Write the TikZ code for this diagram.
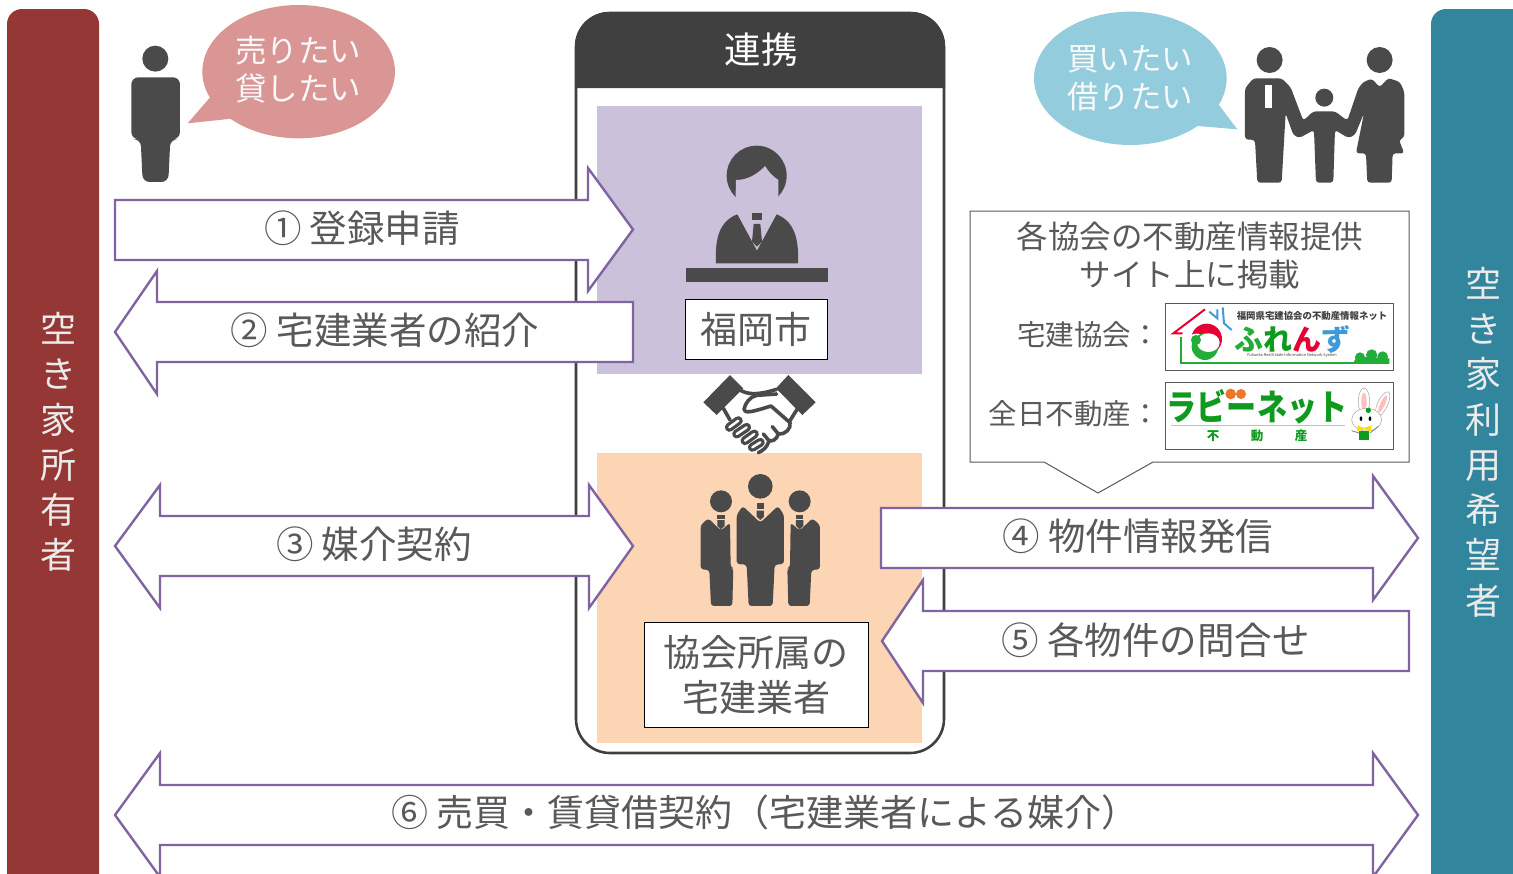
\documentclass[tikz,border=0pt]{standalone}
\usepackage{fontspec}
\setmainfont{Noto Sans CJK JP}
\definecolor{ink}{HTML}{595959}
\definecolor{dark}{HTML}{4A4A4A}
\definecolor{hdr}{HTML}{404040}
\definecolor{arrowline}{HTML}{8064A2}
\definecolor{redbar}{HTML}{953735}
\definecolor{tealbar}{HTML}{31859C}
\definecolor{lilac}{HTML}{CCC1DA}
\definecolor{peach}{HTML}{FCD5B5}
\definecolor{rosebub}{HTML}{D99694}
\definecolor{bluebub}{HTML}{93CDDD}
\definecolor{lgreen}{HTML}{22AC38}
\definecolor{lred}{HTML}{E60033}
\definecolor{lblue}{HTML}{3E9BD8}
\definecolor{rgreen}{HTML}{0E9A1E}
\definecolor{rorange}{HTML}{F0742A}
\newcommand{\fs}[2]{\fontsize{#1}{#2}\selectfont}
\tikzset{
  blockarrow/.style={draw=arrowline,fill=white,line width=2.4pt,line join=miter},
  arrowtext/.style={font=\fs{37.5}{42},text=ink,inner sep=0pt},
  barlabel/.style={font=\fs{36}{45.3},text=white!92!black,align=center,inner sep=0pt},
  bubtext/.style={font=\fs{31.5}{38},text=white!95!gray,align=center,inner sep=0pt},
  whitebox/.style={draw=black,fill=white,line width=1pt,inner sep=0pt,font=\fs{37}{45},text=ink,align=center},
  smalltext/.style={font=\fs{28.5}{38},text=ink,align=center,inner sep=0pt},
  logobox/.style={draw=ink,fill=white,line width=1pt},
  hand/.style={draw=dark,line width=3.6pt,line join=round,line cap=round},
  x=1pt,y=-1pt}
\begin{document}
\begin{tikzpicture}
\useasboundingbox (0,0) rectangle (1513,873);
\clip (0,0) rectangle (1513,873);
% side bars
\fill[redbar,rounded corners=15pt] (7,9) rectangle (99,900);
\fill[tealbar,rounded corners=15pt] (1431,9) rectangle (1560,900);
\node[barlabel] (ownerlabel) at (58,442) {空\\き\\家\\所\\有\\者};
\node[barlabel] (userlabel) at (1483,442) {空\\き\\家\\利\\用\\希\\望\\者};
% central frame
\draw[hdr,line width=2.6pt,rounded corners=34pt] (576,13) rectangle (944,753);
\fill[hdr,rounded corners=34pt] (575,88) -- (575,12) -- (945,12) -- (945,88);
\node[font=\fs{36.5}{40},text=white,inner sep=0pt] (renkei) at (761,50) {連携};
\fill[lilac] (597,106) rectangle (922,374);
\fill[peach] (597,453) rectangle (922,743);
% official icon
\begin{scope}[shift={(660pt,-130pt)},x=0.3333pt,y=-0.3333pt]
  \fill[dark] (290,137) circle[radius=90];
  \fill[lilac] (226,232) -- (228,150) .. controls (265,150) and (295,130) .. (315,108) .. controls (325,125) and (340,140) .. (355,150) -- (355,232) -- cycle;
  \fill[dark] (168,400) .. controls (165,330) and (175,275) .. (232,253) -- (291,362) -- (350,253) .. controls (405,275) and (417,330) .. (414,400) -- cycle;
  \fill[dark] (275,248) rectangle (307,270);
  \fill[dark] (281,282) -- (301,282) -- (306,335) -- (291,350) -- (276,335) -- cycle;
  \fill[dark] (78,415) rectangle (505,455);
\end{scope}
\node[whitebox,minimum width=142pt,minimum height=60pt] (fukuoka) at (756,329) {\raisebox{2pt}{福岡市}};
% handshake
\begin{scope}[shift={(695pt,-370pt)},x=0.3333pt,y=-0.3333pt]
  \fill[dark] (105,15) -- (25,97) -- (65,135) -- (145,55) -- cycle;
  \fill[dark] (280,15) -- (362,97) -- (322,135) -- (243,55) -- cycle;
  \draw[hand] (135,60) .. controls (160,75) and (190,75) .. (245,58);
  \draw[hand] (245,72) -- (185,76) .. controls (165,80) and (150,100) .. (147,118) .. controls (150,130) and (165,128) .. (228,108) -- (285,158) .. controls (290,175) and (270,195) .. (250,192) .. controls (245,210) and (230,215) .. (222,212) .. controls (215,235) and (205,240) .. (190,248);
  \draw[hand] (85,115) -- (105,150);
  \draw[hand] (310,112) -- (283,155);
  \draw[hand] (250,192) -- (232,170);
  \draw[hand] (222,212) -- (205,192);
  \foreach \ax/\ay/\bx/\by in {103/172/130/152,125/192/155/172,150/212/178/192,172/232/196/217}{
    \draw[dark,line width=9pt,line cap=round] (\ax,\ay) -- (\bx,\by);
    \draw[white,line width=2.4pt,line cap=round] (\ax,\ay) -- (\bx,\by);
  }
\end{scope}
% agents icon
\begin{scope}[shift={(680pt,-460pt)},x=0.3333pt,y=-0.3333pt]
  \foreach \sc/\off in {1/0,-1/482}{
  \begin{scope}[shift={(\off*0.3333pt,0pt)},xscale=\sc]
    \fill[dark] (123,124) circle[radius=33];
    \fill[dark] (112,165) rectangle (134,176);
    \fill[dark] (112,180) -- (134,180) -- (134,198) -- (123,208) -- (112,198) -- cycle;
    \fill[dark,rounded corners=3pt] (85,175) -- (123,212) -- (150,188) -- (152,322) -- (160,325) -- (157,438) -- (93,438) -- (88,330) -- (62,328) -- (62,195) -- cycle;
  \end{scope}}
  \fill[dark] (241,79) circle[radius=37];
  \fill[dark] (230,130) rectangle (252,146);
  \fill[dark] (230,152) -- (252,152) -- (252,170) -- (241,180) -- (230,170) -- cycle;
  \fill[dark,rounded corners=3pt] (188,138) -- (241,188) -- (294,138) -- (312,165) -- (312,312) -- (284,314) -- (278,438) -- (206,438) -- (200,314) -- (170,312) -- (170,165) -- cycle;
\end{scope}
\node[whitebox,minimum width=224pt,minimum height=105pt] (agents) at (756,674.5) {\raisebox{2pt}{協会所属の}\\\raisebox{2pt}{宅建業者}};
% top-left person and bubble
\begin{scope}[shift={(100pt,0pt)},x=0.3333pt,y=-0.3333pt]
  \fill[dark] (166,176) circle[radius=39];
  \fill[dark,rounded corners=7pt] (94,232) -- (94,417) -- (122,418) -- (128,546) -- (205,546) -- (211,418) -- (240,417) -- (240,232) -- cycle;
  \fill[rosebub] (596,215) circle[x radius=289,y radius=200];
  \fill[rosebub] (332,290) -- (263,370) -- (395,356) -- (450,300) -- cycle;
\end{scope}
\node[bubtext] (sell) at (298,70) {売りたい\\貸したい};
% top-right family and bubble
\begin{scope}[shift={(1020pt,0pt)},x=0.3333pt,y=-0.3333pt]
  \fill[bluebub] (331,235) circle[x radius=289,y radius=200];
  \fill[bluebub] (597,315) -- (652,388) -- (533,378) -- (450,300) -- cycle;
  \fill[dark] (749,180) circle[radius=39];
  \fill[dark] (913,293) circle[radius=27];
  \fill[dark] (1079,180) circle[radius=39];
  \fill[dark,rounded corners=3pt] (675,265) -- (700,235) -- (785,235) -- (812,262) -- (850,362) -- (880,334) -- (945,334) -- (982,362) -- (1015,265) -- (1030,246) -- (1056,236) -- (1079,262) -- (1105,234) -- (1140,246) -- (1153,275) -- (1153,412) -- (1137,420) -- (1153,460) -- (1118,460) -- (1115,548) -- (1042,548) -- (1038,460) -- (1008,460) -- (1032,340) -- (1005,405) -- (985,414) -- (945,390) -- (940,548) -- (888,548) -- (882,390) -- (838,414) -- (820,405) -- (797,340) -- (785,548) -- (712,548) -- (705,420) -- (675,418) -- cycle;
  \fill[white] (735,255) rectangle (757,325);
\end{scope}
\node[bubtext] (buy) at (1130,78) {買いたい\\借りたい};
% callout
\draw[ink,fill=white,line width=1pt] (970,211) -- (1409,211) -- (1409,462) -- (1153,462) -- (1098,493) -- (1044,462) -- (970,462) -- cycle;
\node[smalltext,font=\fs{31.5}{38}] (info) at (1190,255) {各協会の不動産情報提供\\サイト上に掲載};
\node[smalltext,anchor=east] (takken) at (1160,335) {宅建協会：};
\node[smalltext,anchor=east] (zennichi) at (1160,414) {全日不動産：};
% logo 1
\draw[logobox] (1165,303) rectangle (1393,370);
\begin{scope}[shift={(1160pt,-300pt)},x=0.3333pt,y=-0.3333pt]
  \draw[lred,line width=2pt] (135,28) -- (40,100) -- (68,100);
  \draw[lblue,line width=2pt] (148,35) -- (172,55) -- (172,28);
  \draw[lblue,line width=2pt] (188,22) -- (192,70) -- (215,90);
  \draw[lgreen,line width=2.2pt] (62,112) -- (62,190) -- (590,190);
  \fill[lred] (140,117) circle[radius=46];
  \fill[white] (110,115) circle[x radius=24,y radius=14];
  \fill[lgreen] (135,140) circle[radius=40];
  \fill[white] (145,128) circle[x radius=34,y radius=28];
  \fill[lgreen] (108,120) circle[radius=15];
  \fill[lgreen] (578,192) -- (590,170) -- (688,175) -- (688,192) -- cycle;
  \fill[lgreen] (600,172) circle[radius=15];
  \fill[lgreen] (635,165) circle[radius=17];
  \fill[lgreen] (668,170) circle[radius=16];
\end{scope}
\node[font=\bfseries\fs{9.4}{10},text=hdr,inner sep=0pt] (l1a) at (1312,316) {福岡県宅建協会の不動産情報ネット};
\node[font=\bfseries\fs{29}{30},inner sep=0pt] (l1b) at (1292,339) {\textcolor{lgreen}{ふ}\textcolor{rgreen}{れ}\textcolor{lred}{ん}\textcolor{lblue}{ず}};
\node[font=\fs{3.9}{5},text=hdr,inner sep=0pt] (l1c) at (1292,355.5) {Fukuoka Real Estate Information Network System};
% logo 2
\draw[logobox] (1165,382) rectangle (1393,449);
\begin{scope}[shift={(1160pt,-378pt)},x=0.3333pt,y=-0.3333pt]
  \fill[rorange] (212,48) circle[radius=16];
  \fill[rorange] (243,48) circle[radius=15];
  \draw[lightgray,line width=.6pt] (32,143) -- (555,143);
  % rabbit
  \filldraw[fill=white,draw=gray!70,line width=.5pt] (612,70) circle[x radius=17,y radius=40];
  \filldraw[fill=white,draw=gray!70,line width=.5pt,rotate around={-25:(668,78)}] (668,78) circle[x radius=15,y radius=40];
  \fill[pink] (612,72) circle[x radius=8,y radius=28];
  \fill[pink,rotate around={-25:(668,78)}] (668,78) circle[x radius=7,y radius=28];
  \filldraw[fill=white,draw=gray!70,line width=.5pt] (620,125) circle[x radius=45,y radius=34];
  \fill[rgreen] (625,97) circle[radius=8];
  \fill[black] (603,122) circle[x radius=4,y radius=7];
  \fill[black] (630,122) circle[x radius=4,y radius=7];
  \draw[gray,line width=.8pt] (597,165) -- (575,158);
  \draw[gray,line width=.8pt] (630,165) -- (655,145);
  \fill[rgreen] (597,160) rectangle (627,186);
  \fill[yellow!80!orange] (592,142) -- (612,150) -- (634,142) -- (634,160) -- (612,154) -- (592,160) -- cycle;
\end{scope}
\node[font=\bfseries\fs{31}{32},text=rgreen,inner sep=0pt] (l2a) at (1257,407) {\scalebox{0.97}[1.15]{ラビーネット}};
\node[font=\bfseries\fs{12.5}{14},text=rgreen,inner sep=0pt] (l2b) at (1213,436) {不};
\node[font=\bfseries\fs{12.5}{14},text=rgreen,inner sep=0pt] (l2c) at (1257,436) {動};
\node[font=\bfseries\fs{12.5}{14},text=rgreen,inner sep=0pt] (l2d) at (1301,436) {産};
% block arrows
\draw[blockarrow] (115,200) -- (588,200) -- (588,168) -- (633,229.5) -- (588,291) -- (588,260) -- (115,260) -- cycle;
\node[arrowtext] (a1) at (362,228) {① 登録申請};
\draw[blockarrow] (633,302) -- (157,302) -- (157,271) -- (115,332) -- (157,394) -- (157,362) -- (633,362) -- cycle;
\node[arrowtext] (a2) at (385,330) {② 宅建業者の紹介};
\draw[blockarrow] (115,546) -- (160,485) -- (160,516) -- (589,516) -- (589,485) -- (633,546) -- (589,608) -- (589,576) -- (160,576) -- (160,608) -- cycle;
\node[arrowtext] (a3) at (374,544) {③ 媒介契約};
\draw[blockarrow] (881,508) -- (1373,508) -- (1373,476) -- (1418,538) -- (1373,600) -- (1373,568) -- (881,568) -- cycle;
\node[arrowtext] (a4) at (1138,536) {④ 物件情報発信};
\draw[blockarrow] (1409,611) -- (923,611) -- (923,580) -- (882,641) -- (923,703) -- (923,671) -- (1409,671) -- cycle;
\node[arrowtext] (a5) at (1155.5,640) {⑤ 各物件の問合せ};
\draw[blockarrow] (115,815) -- (160,753) -- (160,785) -- (1373,785) -- (1373,753) -- (1418,815) -- (1373,877) -- (1373,845) -- (160,845) -- (160,877) -- cycle;
\node[arrowtext,font=\fs{37}{42}] (a6) at (765,812) {⑥ 売買・賃貸借契約（宅建業者による媒介）};
\end{tikzpicture}
\end{document}
